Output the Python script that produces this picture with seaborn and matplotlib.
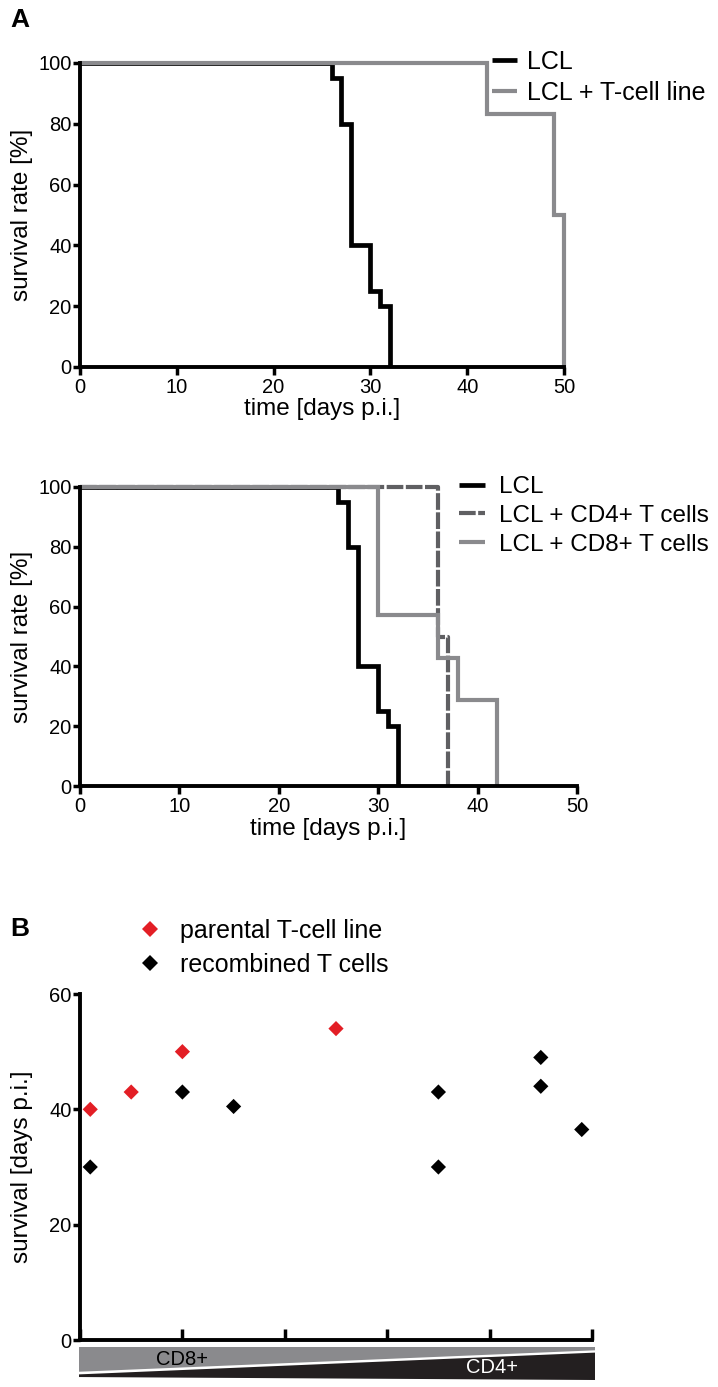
import matplotlib
matplotlib.use("Agg")
import matplotlib.pyplot as plt
import seaborn as sns
import pandas as pd
from matplotlib.patches import Polygon

## Data
# panel A (top): survival curves
lcl_days = [0, 26, 27, 28, 30, 31, 32]
lcl_surv = [100, 95, 80, 40, 25, 20, 0]
tline_days = [0, 42, 49, 50]
tline_surv = [100, 83.3, 50, 0]

# panel A (bottom)
cd4_days = [0, 36, 37]
cd4_surv = [100, 50, 0]
cd8_days = [0, 30, 36, 38, 42]
cd8_surv = [100, 57.1, 42.9, 28.6, 0]

# panel B: survival per T-cell clone, ordered CD8+ -> CD4+
parental_x = [0.1, 0.5, 1.0, 2.5]
parental_y = [40, 43, 50, 54]
recomb_x = [0.1, 1.0, 1.5, 3.5, 3.5, 4.5, 4.5, 4.9]
recomb_y = [30, 43, 40.5, 43, 30, 49, 44, 36.5]

BLACK = "#000000"
GRAY = "#8a8a8d"
DARK = "#5f5f62"
RED = "#e31e25"

sns.set_style("ticks")
plt.rcParams["font.family"] = ["Liberation Sans", "DejaVu Sans"]
plt.rcParams["text.color"] = "black"
plt.rcParams["axes.labelcolor"] = "black"
plt.rcParams["xtick.color"] = "black"
plt.rcParams["ytick.color"] = "black"

W, H = 718, 1387
fig = plt.figure(figsize=(W / 100, H / 100), dpi=100)


def box(x0, y0, x1, y1):
    # pixel box -> figure fraction
    return [x0 / W, 1 - y1 / H, (x1 - x0) / W, (y1 - y0) / H]


def style(ax, xdir="out"):
    for s in ["top", "right"]:
        ax.spines[s].set_visible(False)
    for s in ["left", "bottom"]:
        ax.spines[s].set_linewidth(2.8)
        ax.spines[s].set_color("black")
    ax.tick_params(axis="y", direction="out", length=5, width=2.5, pad=1, labelsize=14.5)
    ax.tick_params(axis="x", direction=xdir, length=6, width=2.5, pad=2, labelsize=14.5)


def surv_line(ax, days, surv, color, label, ls="-", lw=3.2):
    df = pd.DataFrame({"time": days, "surv": surv})
    sns.lineplot(data=df, x="time", y="surv", ax=ax, color=color, label=label,
                 drawstyle="steps-post", linewidth=lw, linestyle=ls, errorbar=None,
                 clip_on=False, solid_joinstyle="miter", solid_capstyle="butt",
                 legend=False)


## Panel A top
ax1 = fig.add_axes(box(80, 63, 564, 367))
surv_line(ax1, lcl_days, lcl_surv, BLACK, "LCL", lw=3.4)
surv_line(ax1, tline_days, tline_surv, GRAY, "LCL + T-cell line", lw=3.0)
ax1.set_xlim(0, 50)
ax1.set_ylim(0, 100)
ax1.set_xticks(range(0, 51, 10))
ax1.set_yticks(range(0, 101, 20))
style(ax1)
ax1.set_xlabel("time [days p.i.]", fontsize=17.5, labelpad=1)
ax1.set_ylabel("survival rate [%]", fontsize=17.5, labelpad=4)
h, l = ax1.get_legend_handles_labels()
fig.legend(h, l, loc="upper left", bbox_to_anchor=(492 / W, 1 - 50 / H), frameon=False,
           fontsize=18, handlelength=1.0, handletextpad=0.4, labelspacing=0.28,
           borderpad=0, borderaxespad=0)

## Panel A bottom
ax2 = fig.add_axes(box(80, 487, 577, 786))
surv_line(ax2, lcl_days, lcl_surv, BLACK, "LCL", lw=3.4)
surv_line(ax2, cd4_days, cd4_surv, DARK, "LCL + CD4+ T cells", ls=(0, (4, 0.6)), lw=3.0)
surv_line(ax2, cd8_days, cd8_surv, GRAY, "LCL + CD8+ T cells", lw=3.0)
ax2.set_xlim(0, 50)
ax2.set_ylim(0, 100)
ax2.set_xticks(range(0, 51, 10))
ax2.set_yticks(range(0, 101, 20))
style(ax2)
ax2.set_xlabel("time [days p.i.]", fontsize=17.5, labelpad=1)
ax2.set_ylabel("survival rate [%]", fontsize=17.5, labelpad=4)
h, l = ax2.get_legend_handles_labels()
fig.legend(h, l, loc="upper left", bbox_to_anchor=(459 / W, 1 - 476 / H), frameon=False,
           fontsize=17.5, handlelength=1.05, handletextpad=0.6, labelspacing=0.28,
           borderpad=0, borderaxespad=0)

## Panel B
ax3 = fig.add_axes(box(80, 994, 592, 1340))
pts = pd.DataFrame({
    "x": parental_x + recomb_x,
    "y": parental_y + recomb_y,
    "group": ["parental T-cell line"] * len(parental_x) + ["recombined T cells"] * len(recomb_x),
})
sns.scatterplot(data=pts, x="x", y="y", hue="group", ax=ax3, marker="D", s=60,
                palette={"parental T-cell line": RED, "recombined T cells": BLACK},
                linewidth=0, clip_on=False)
ax3.set_xlim(0, 5)
ax3.set_ylim(0, 60)
ax3.set_xticks(range(0, 6))
ax3.set_xticklabels([])
ax3.set_yticks(range(0, 61, 20))
style(ax3, xdir="in")
ax3.tick_params(axis="x", length=8)
ax3.set_xlabel("")
ax3.set_ylabel("survival [days p.i.]", fontsize=17.5, labelpad=12)
h, l = ax3.get_legend_handles_labels()
ax3.get_legend().remove()
fig.legend(h, l, loc="upper left", bbox_to_anchor=(137 / W, 1 - 919 / H), frameon=False,
           fontsize=18, handlelength=1.0, handletextpad=0.72, labelspacing=0.38,
           borderpad=0, borderaxespad=0, markerscale=1.0)

# CD8+ -> CD4+ wedge bar under the x axis
axb = fig.add_axes(box(79, 1347, 595, 1380))
axb.set_xlim(0, 1)
axb.set_ylim(0, 1)
axb.axis("off")
axb.add_patch(Polygon([(0, 1), (1, 1), (1, 0.90), (0, 0.25)], closed=True,
                      facecolor=GRAY, edgecolor="none"))
axb.add_patch(Polygon([(0, 0.17), (1, 0.83), (1, 0), (0, 0.09)], closed=True,
                      facecolor="#231f20", edgecolor="none"))
axb.text(0.20, 0.62, "CD8+", ha="center", va="center", fontsize=14.5, color="black")
axb.text(0.80, 0.38, "CD4+", ha="center", va="center", fontsize=14.5, color="white")

fig.text(10 / W, 1 - 20 / H, "A", fontsize=19, fontweight="bold", va="center")
fig.text(10 / W, 1 - 929 / H, "B", fontsize=19, fontweight="bold", va="center")

fig.savefig("out.png", dpi=100)
